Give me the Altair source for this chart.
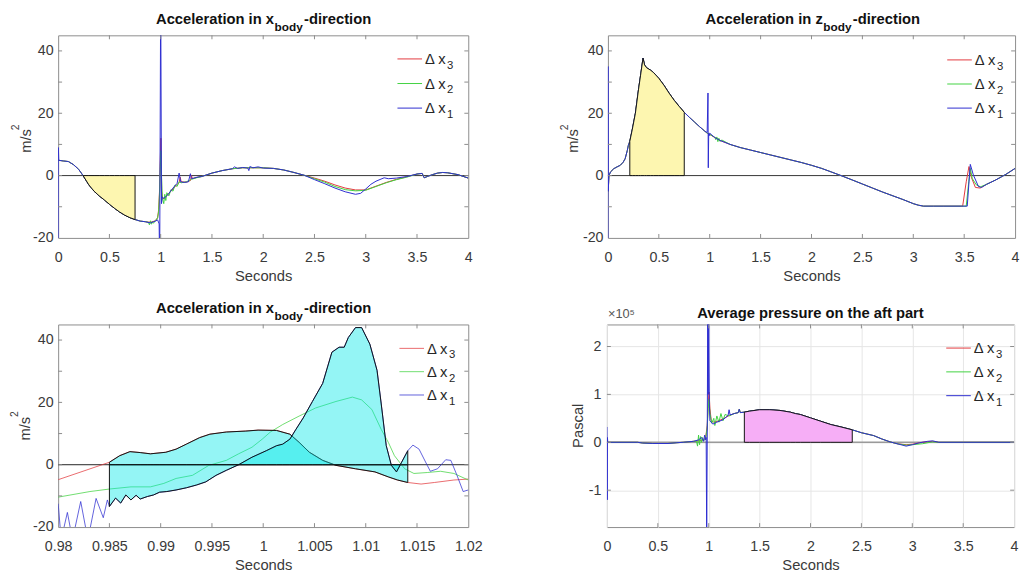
import altair as alt
import pandas as pd

FONT = "Liberation Sans"
SERIES = ["Δ x₃", "Δ x₂", "Δ x₁"]
LEGEND_MAIN = "Δ x"
LEGEND_SUB = ["3", "2", "1"]
COLORS = ["#e2383c", "#3fd23f", "#2c2cd0"]
LABEL_COLOR = "#3a3a3a"
FRAME = "#8c8c8c"

# ---------------- Panel 1: acceleration in x_body (0..4 s) ----------------
P1_PRE = [(0.05, 4.7), (0.1, 4.5), (0.15, 3.5), (0.2, 2.0), (0.243, 0.0), (0.3, -3.0), (0.35, -5.0),
          (0.4, -6.5), (0.45, -7.8), (0.5, -9.2), (0.55, -10.5), (0.6, -11.7), (0.65, -12.7),
          (0.7, -13.5), (0.75, -14.1), (0.8, -14.6), (0.85, -14.8)]
P1_POST_A = [(1.4, -0.3), (1.5, 0.8), (1.6, 1.6)]
P1_POST_B = [(2.1, 2.3), (2.2, 1.8), (2.3, 1.0), (2.4, 0.1)]
P1_TAIL = [(3.5, 0.5), (3.55, 0.7), (3.57, -0.7), (3.6, -0.3), (3.65, 0.3), (3.7, 0.8), (3.75, 1.0),
           (3.8, 0.9), (3.9, 0.3), (4.0, -0.8)]
P1_X3 = ([(0.0, 4.9), (0.006, 4.9)] + P1_PRE +
         [(0.9, -15.0), (0.95, -14.5), (0.97, -13.5), (0.98, -11.0), (0.99, -4.0), (0.995, 4.0),
          (1.002, 12.0), (1.006, 4.0), (1.01, -5.0), (1.02, -7.5), (1.05, -6.8), (1.1, -5.0),
          (1.15, -3.2), (1.18, -2.2), (1.19, -0.5), (1.2, -2.0), (1.25, -2.1), (1.29, -1.6),
          (1.3, 0.0), (1.31, -1.0), (1.35, -0.6)] + P1_POST_A +
         [(1.7, 2.2), (1.8, 2.5), (1.9, 2.5), (2.0, 2.5)] + P1_POST_B +
         [(2.5, -0.8), (2.6, -1.8), (2.7, -3.0), (2.8, -4.0), (2.9, -4.6), (3.0, -4.6), (3.1, -3.4),
          (3.2, -2.2), (3.3, -1.2), (3.4, -0.4)] + P1_TAIL)
P1_X2 = ([(0.0, 4.9), (0.006, 4.9)] + P1_PRE +
         [(0.88, -15.0), (0.89, -15.8), (0.9, -14.5), (0.91, -15.6), (0.92, -14.8), (0.93, -15.3),
          (0.95, -14.3), (0.97, -13.6), (0.98, -11.5), (0.99, -5.0), (0.995, 2.0), (1.002, 8.0),
          (1.008, 0.0), (1.015, -7.0), (1.03, -9.0), (1.04, -6.0), (1.05, -8.0), (1.06, -5.5),
          (1.08, -6.5), (1.1, -4.5), (1.12, -5.0), (1.14, -3.0), (1.16, -3.5), (1.18, -2.0),
          (1.2, -2.3), (1.25, -2.0), (1.3, -1.2), (1.35, -0.7)] + P1_POST_A +
         [(1.7, 2.2), (1.8, 2.5), (1.9, 2.5), (2.0, 2.5)] + P1_POST_B +
         [(2.5, -1.0), (2.6, -2.1), (2.7, -3.5), (2.8, -4.5), (2.9, -4.9), (3.0, -4.7), (3.1, -3.5),
          (3.2, -2.3), (3.3, -1.3), (3.4, -0.5)] + P1_TAIL)
P1_X1 = ([(0.0, -22.0), (0.002, 9.0), (0.006, 4.9)] + P1_PRE +
         [(0.9, -15.2), (0.93, -14.8), (0.95, -14.6), (0.97, -14.2), (0.985, -15.5), (0.99, -30.0),
          (1.0, 60.0), (1.008, -9.0), (1.015, -6.8), (1.03, -7.3), (1.05, -6.8), (1.08, -5.7),
          (1.13, -3.6), (1.16, -2.5), (1.18, 0.8), (1.195, -2.0), (1.23, -2.2), (1.27, -2.0),
          (1.29, 0.6), (1.3, -1.0), (1.37, -0.4)] + P1_POST_A +
         [(1.7, 2.2), (1.72, 2.8), (1.75, 2.3), (1.8, 2.6), (1.85, 2.4), (1.86, 1.6), (1.87, 2.9),
          (1.9, 2.5), (1.95, 2.8), (2.0, 2.4)] + P1_POST_B +
         [(2.5, -1.3), (2.6, -2.6), (2.7, -4.0), (2.8, -5.2), (2.9, -6.0), (2.95, -5.7), (3.0, -4.3),
          (3.05, -2.8), (3.1, -1.8), (3.18, -0.7), (3.22, -1.0), (3.3, -0.8), (3.4, -0.3)] + P1_TAIL)
P1_FILL = [(0.243, 0.0), (0.3, -3.0), (0.35, -5.0), (0.4, -6.5), (0.45, -7.8), (0.5, -9.2),
           (0.55, -10.5), (0.6, -11.7), (0.65, -12.7), (0.7, -13.5), (0.75, -14.1)]

# ---------------- Panel 2: acceleration in z_body (0..4 s) ----------------
P2_A = [(0.003, -5.0), (0.01, 0.0), (0.026, 1.2), (0.057, 2.2), (0.09, 2.8), (0.121, 3.3),
        (0.15, 4.3), (0.169, 5.4), (0.19, 8.0), (0.2, 9.6), (0.215, 11.0), (0.24, 14.9),
        (0.27, 20.0), (0.3, 27.5), (0.32, 32.0), (0.345, 37.7), (0.36, 35.5), (0.38, 34.6),
        (0.42, 33.8), (0.45, 33.0), (0.5, 31.2), (0.55, 29.0), (0.6, 26.5), (0.65, 24.2),
        (0.7, 22.2), (0.75, 20.3), (0.8, 18.7), (0.85, 17.2), (0.9, 15.7), (0.95, 14.3)]
P2_B = [(1.2, 10.0), (1.3, 9.0), (1.4, 8.2), (1.5, 7.4), (1.6, 6.6), (1.7, 5.8), (1.8, 5.0),
        (1.9, 4.2), (2.0, 3.3), (2.1, 2.3), (2.2, 1.1), (2.29, 0.0), (2.4, -1.4), (2.5, -2.7),
        (2.6, -4.0), (2.7, -5.3), (2.8, -6.5), (2.9, -7.7), (3.0, -9.0), (3.05, -9.5), (3.1, -9.8),
        (3.2, -9.8), (3.3, -9.8), (3.4, -9.8), (3.47, -9.8)]
P2_END = [(3.72, -2.8), (3.81, -1.4), (3.91, 0.4), (4.0, 2.3)]
P2_X3 = ([(0.0, -5.0)] + P2_A + [(0.975, 13.6), (1.0, 13.2), (1.05, 12.2), (1.1, 11.3)] + P2_B +
         [(3.485, -9.8), (3.52, -2.0), (3.547, 2.9), (3.57, -0.5), (3.61, -3.8), (3.657, -4.0)] + P2_END)
P2_X2 = ([(0.0, -5.0)] + P2_A +
         [(0.975, 13.6), (1.0, 13.2), (1.05, 12.3), (1.06, 11.5), (1.07, 12.4), (1.08, 10.9),
          (1.09, 12.0), (1.1, 11.0), (1.12, 11.4)] + P2_B +
         [(3.52, -9.8), (3.545, -2.0), (3.56, 2.3), (3.58, -1.0), (3.62, -3.0), (3.66, -3.6)] + P2_END)
P2_X1 = ([(0.0, -22.0), (0.001, 35.0)] + P2_A +
         [(0.975, 13.8), (0.983, 26.5), (0.986, 2.5), (0.99, 13.5), (0.995, 12.8), (1.0, 13.6),
          (1.05, 12.2), (1.1, 11.3)] + P2_B +
         [(3.53, -9.8), (3.545, -3.0), (3.56, 3.6), (3.59, 0.2), (3.64, -3.5), (3.67, -3.8)] + P2_END)
P2_FILL = [(0.215, 11.0), (0.24, 14.9), (0.27, 20.0), (0.3, 27.5), (0.32, 32.0), (0.345, 37.7),
           (0.36, 35.5), (0.38, 34.6), (0.42, 33.8), (0.45, 33.0), (0.5, 31.2), (0.55, 29.0),
           (0.6, 26.5), (0.65, 24.2), (0.7, 22.2), (0.75, 20.3)]

# ---------------- Panel 3: zoom 0.98..1.02 s ----------------
P3_X3 = [(0.98, -4.8), (0.985, 0.8), (0.986, 2.9), (0.987, 4.2), (0.988, 3.9), (0.989, 3.5),
         (0.9905, 4.0), (0.9915, 5.0), (0.9925, 6.6), (0.9938, 8.7), (0.9948, 9.8), (0.9964, 10.5),
         (0.9983, 10.8), (0.9995, 11.1), (1.0013, 11.0), (1.0026, 9.8), (1.0035, 7.2), (1.0045, 4.0),
         (1.0058, 1.4), (1.0071, -0.2), (1.009, -1.3), (1.0109, -2.3), (1.0122, -3.9), (1.0131, -4.9),
         (1.0141, -5.7), (1.0154, -6.2), (1.0167, -5.7), (1.0186, -4.9), (1.02, -4.6)]
P3_X2 = [(0.98, -10.4), (0.9831, -8.6), (0.985, -7.8), (0.9871, -7.1), (0.989, -7.1), (0.9903, -6.0),
         (0.9915, -4.4), (0.9931, -3.4), (0.9947, -0.2), (0.9964, 1.4), (0.9976, 3.5), (0.9989, 5.6),
         (0.9999, 8.2), (1.0007, 10.5), (1.0019, 12.9), (1.0035, 15.6), (1.0051, 18.2), (1.0071, 20.3),
         (1.0087, 21.7), (1.0096, 20.8), (1.0106, 17.7), (1.0115, 11.4), (1.0122, 7.2), (1.0128, 2.9),
         (1.0138, -1.3), (1.0147, -2.8), (1.016, -2.5), (1.0173, -2.1), (1.0186, -2.8), (1.02, -4.9)]
P3_X1 = [(0.98, -12.5), (0.9803, -24.0), (0.9809, -15.3), (0.9814, -24.0), (0.9822, -11.8),
         (0.9829, -24.0), (0.9837, -10.8), (0.9844, -17.0), (0.9848, -11.3), (0.985, -13.4),
         (0.9856, -10.7), (0.9861, -12.3), (0.9866, -9.7), (0.9871, -11.3), (0.9876, -9.8),
         (0.988, -11.0), (0.9887, -10.2), (0.9893, -9.7), (0.9899, -8.8), (0.9906, -8.6),
         (0.9915, -8.1), (0.9925, -7.4), (0.9935, -6.5), (0.9944, -5.5), (0.9954, -3.4),
         (0.9964, -1.8), (0.9976, 0.0), (0.9989, 2.4), (1.0003, 4.5), (1.0013, 6.1), (1.0019, 6.6),
         (1.0026, 8.2), (1.0032, 11.4), (1.0039, 15.0), (1.0048, 20.3), (1.0058, 26.1),
         (1.0067, 36.1), (1.0074, 37.7), (1.0079, 37.7), (1.0083, 40.8), (1.009, 44.0),
         (1.0096, 44.0), (1.0104, 38.7), (1.0111, 30.3), (1.0115, 19.8), (1.012, 6.1),
         (1.0125, -0.2), (1.013, -2.3), (1.0135, 0.8), (1.0141, 4.5), (1.0146, 6.3), (1.0152, 5.0),
         (1.016, -0.2), (1.0163, -2.1), (1.017, -1.3), (1.0178, 1.6), (1.0183, 1.4), (1.0189, -3.4),
         (1.0195, -8.6), (1.02, -8.1)]
P3_FILL_RED = [p for p in P3_X3 if 0.985 <= p[0] <= 1.0141]
P3_FILL_BLUE = [p for p in P3_X1 if 0.985 <= p[0] <= 1.0141]

# ---------------- Panel 4: average pressure on aft part (x 1e5 Pa) ----------------
P4_PRE = [(0.3, 0.0), (0.35, -0.015), (0.45, -0.025), (0.6, -0.025), (0.68, -0.01), (0.75, 0.0),
          (0.85, 0.02)]
P4_MID = [(1.25, 0.6), (1.29, 0.62), (1.3, 0.69), (1.31, 0.62), (1.35, 0.63), (1.4, 0.65),
          (1.5, 0.68), (1.6, 0.68), (1.7, 0.665), (1.8, 0.63), (1.85, 0.6), (1.9, 0.58), (2.0, 0.51),
          (2.1, 0.44), (2.2, 0.37), (2.3, 0.32), (2.41, 0.26), (2.5, 0.2), (2.62, 0.14), (2.7, 0.07),
          (2.78, 0.01), (2.85, -0.03)]
P4_END = [(3.5, 0.0), (4.0, 0.0)]
P4_X3 = ([(0.0, 0.0)] + P4_PRE +
         [(0.9, 0.03), (0.95, 0.05), (0.97, 0.1), (0.985, 0.35), (0.995, 0.8), (1.003, 1.05),
          (1.012, 0.7), (1.025, 0.45), (1.05, 0.42), (1.1, 0.45), (1.15, 0.5), (1.2, 0.56)] + P4_MID +
         [(2.94, -0.05), (3.0, -0.04), (3.1, 0.0), (3.2, 0.02), (3.26, 0.0)] + P4_END)
P4_X2 = ([(0.0, 0.0)] + P4_PRE +
         [(0.88, 0.02), (0.89, -0.08), (0.9, 0.15), (0.91, -0.05), (0.92, 0.12), (0.93, 0.0),
          (0.94, 0.1), (0.95, 0.03), (0.97, 0.08), (0.985, 0.3), (0.995, 0.7), (1.003, 0.9),
          (1.012, 0.6), (1.03, 0.4), (1.05, 0.5), (1.06, 0.35), (1.08, 0.55), (1.1, 0.42),
          (1.12, 0.6), (1.14, 0.45), (1.16, 0.58), (1.2, 0.55)] + P4_MID +
         [(2.94, -0.06), (3.0, -0.05), (3.1, -0.03), (3.2, 0.01), (3.26, 0.0)] + P4_END)
P4_X1 = ([(0.0, 0.32), (0.003, -1.2), (0.005, 0.1), (0.008, 0.0)] + P4_PRE +
         [(0.9, 0.05), (0.93, 0.1), (0.95, 0.02), (0.96, 0.15), (0.97, 0.05), (0.975, 0.1),
          (0.98, -2.0), (0.986, 0.4), (0.99, 2.6), (0.995, 1.0), (1.0, 2.6), (1.006, 0.8),
          (1.012, 0.45), (1.04, 0.38), (1.08, 0.42), (1.14, 0.47), (1.19, 0.56), (1.2, 0.68),
          (1.21, 0.57)] + P4_MID +
         [(2.94, -0.08), (3.0, -0.05), (3.07, -0.01), (3.15, 0.02), (3.2, 0.03), (3.26, 0.0)] + P4_END)
P4_FILL = [p for p in P4_MID if 1.35 <= p[0] <= 2.41]

# ---------------- ticks ----------------
X_TICKS_FULL = [0, 0.5, 1, 1.5, 2, 2.5, 3, 3.5, 4]
X_TICKS_ZOOM = [0.98, 0.985, 0.99, 0.995, 1.0, 1.005, 1.01, 1.015, 1.02]
Y_TICKS_ACC = [-20, -10, 0, 10, 20, 30, 40]
Y_TICKS_P = [-1, 0, 1, 2]

LABEL_EXPR = "datum.value < 0 ? '-' + format(-datum.value, '~g') : format(datum.value, '~g')"
LFS = 14.5


def df(pairs, series=None):
    d = pd.DataFrame(pairs, columns=["t", "y"])
    if series is not None:
        d["s"] = series
    return d


def one():
    return pd.DataFrame({"k": [0]})


def panel(lines, fills, xdom, ydom, xticks, yticks, ylab_pad, zero_color, zero_w, grid, texts,
          W, H, line_opacity=1.0, lx=346, ly=24, pitch=24.5):
    xs = alt.Scale(domain=xdom, nice=False, zero=False)
    ys = alt.Scale(domain=ydom, nice=False, zero=False)
    ax_x = alt.Axis(values=xticks, labelExpr=LABEL_EXPR, title="Seconds", grid=grid,
                    gridColor="#e6e6e6", domain=False, ticks=False, tickSize=0, labelPadding=13,
                    titlePadding=5, labelFont=FONT, labelFontSize=LFS, titleFont=FONT,
                    titleFontSize=15, titleFontWeight="normal", labelColor=LABEL_COLOR,
                    titleColor=LABEL_COLOR, labelFlush=False, labelOverlap=False)
    ax_y = alt.Axis(values=yticks, labelExpr=LABEL_EXPR, title=None, grid=grid,
                    gridColor="#e6e6e6", domain=False, ticks=False, tickSize=0,
                    labelPadding=ylab_pad, labelFont=FONT, labelFontSize=LFS,
                    labelColor=LABEL_COLOR, labelFlush=False, labelOverlap=False)
    layers = []
    layers.append(alt.Chart(one()).mark_rule(color=zero_color, strokeWidth=zero_w).encode(
        y=alt.datum(0)))
    ldata = pd.concat([df(d, n) for d, n in zip(lines, SERIES)], ignore_index=True)
    layers.append(alt.Chart(ldata).mark_line(clip=True, strokeWidth=1, opacity=line_opacity).encode(
        x=alt.X("t:Q", scale=xs, axis=ax_x),
        y=alt.Y("y:Q", scale=ys, axis=ax_y),
        color=alt.Color("s:N", scale=alt.Scale(domain=SERIES, range=COLORS), legend=None)))
    for data, fill, op in fills:
        layers.append(alt.Chart(df(data)).mark_area(
            clip=True, color=fill, fillOpacity=op, stroke="#111111", strokeWidth=1).encode(
            x="t:Q", y="y:Q", y2=alt.datum(0)))
    xt = pd.DataFrame({"t": [v for v in xticks if xdom[0] < v < xdom[1]]})
    yt = pd.DataFrame({"y": [v for v in yticks if ydom[0] < v < ydom[1]]})
    tl = 4
    layers.append(alt.Chart(xt).mark_rule(color=FRAME).encode(
        x="t:Q", y=alt.value(0), y2=alt.value(tl)))
    layers.append(alt.Chart(xt).mark_rule(color=FRAME).encode(
        x="t:Q", y=alt.value(H - tl), y2=alt.value(H)))
    layers.append(alt.Chart(yt).mark_rule(color=FRAME).encode(
        y="y:Q", x=alt.value(0), x2=alt.value(tl)))
    layers.append(alt.Chart(yt).mark_rule(color=FRAME).encode(
        y="y:Q", x=alt.value(W - tl), x2=alt.value(W)))
    # legend (MATLAB style: line sample, "Δ x" and a lowered index)
    for i, (sub, color) in enumerate(zip(LEGEND_SUB, COLORS)):
        yy = ly + i * pitch
        layers.append(alt.Chart(one()).mark_rule(color=color, strokeWidth=1, opacity=line_opacity).encode(
            x=alt.value(lx), x2=alt.value(lx + 25), y=alt.value(yy)))
        texts = texts + [(LEGEND_MAIN, lx + 28, yy + 5.3, 15, "normal", "left", "#262626", 0),
                         (sub, lx + 50.5, yy + 10, 11.5, "normal", "left", "#262626", 0)]
    for (txt, x, y, size, weight, align, color, angle) in texts:
        layers.append(alt.Chart(one()).mark_text(
            text=txt, font=FONT, fontSize=size, fontWeight=weight, align=align,
            baseline="alphabetic", color=color, angle=angle).encode(
            x=alt.value(x), y=alt.value(y)))
    return alt.layer(*layers).properties(width=W, height=H)


YEL = "#fdf6b0"
CYAN = "#00e8e8"
MAG = "#f6aef6"
TC = "#111111"

W_L, W_R, H = 417, 414, 206


def accel_title(letter, shift=0.0):
    return [("Acceleration in " + letter, 219.5 + shift, -12, 15, "bold", "right", TC, 0),
            ("body", 220 + shift, -4.5, 12, "bold", "left", TC, 0),
            ("-direction", 250 + shift, -12, 15, "bold", "left", TC, 0)]


def ms2_title(xb, xsup, ystart, ysup):
    return [("m/s", xb, ystart, 15, "normal", "left", LABEL_COLOR, 270),
            ("2", xsup, ysup, 10.5, "normal", "left", LABEL_COLOR, 270)]


p1 = panel([P1_X3, P1_X2, P1_X1], [(P1_FILL, YEL, 1.0)], [0, 4], [-20, 45], X_TICKS_FULL,
           Y_TICKS_ACC, 5, "#333333", 1, False,
           accel_title("x") + ms2_title(-28, -39.5, 119.5, 96.5), W_L, H, lx=345, ly=24, pitch=25)
p2 = panel([P2_X3, P2_X2, P2_X1], [(P2_FILL, YEL, 1.0)], [0, 4], [-20, 45], X_TICKS_FULL,
           Y_TICKS_ACC, 5, "#333333", 1, False,
           accel_title("z", -1) + ms2_title(-30, -41, 119.5, 96.5), W_R, H, lx=345, ly=25, pitch=24.5)
p3 = panel([P3_X3, P3_X2, P3_X1], [(P3_FILL_RED, CYAN, 0.42), (P3_FILL_BLUE, CYAN, 0.42)],
           [0.98, 1.02], [-20, 45], X_TICKS_ZOOM, Y_TICKS_ACC, 5, "#222222", 1, False,
           accel_title("x") + ms2_title(-28.5, -40.5, 118, 94), W_L, H, line_opacity=0.75,
           lx=347, ly=24.3, pitch=23.7)
p4 = panel([P4_X3, P4_X2, P4_X1], [(P4_FILL, MAG, 1.0)], [0, 4], [-1.77, 2.46], X_TICKS_FULL,
           Y_TICKS_P, 6, "#9a9a9a", 1.5, True,
           [("Average pressure on the aft part", W_R / 2, -7, 15, "bold", "center", TC, 0),
            ("×10⁵", 1, -7, 13, "normal", "left", "#555555", 0),
            ("Pascal", -24, 103, 15, "normal", "center", LABEL_COLOR, 270)],
           W_R, H, lx=345, ly=24, pitch=24.2)

row1 = alt.hconcat(p1, p2, spacing=87).resolve_scale(color="independent")
row2 = alt.hconcat(p3, p4, spacing=89).resolve_scale(color="independent")
chart = alt.vconcat(row1, row2, spacing=16).resolve_scale(color="independent").configure_view(
    stroke=FRAME, strokeWidth=1).properties(
    padding={"left": 2, "top": -2, "right": 0, "bottom": 0}, background="white")

chart.save("out.html", embed_options={"renderer": "svg", "actions": False})
